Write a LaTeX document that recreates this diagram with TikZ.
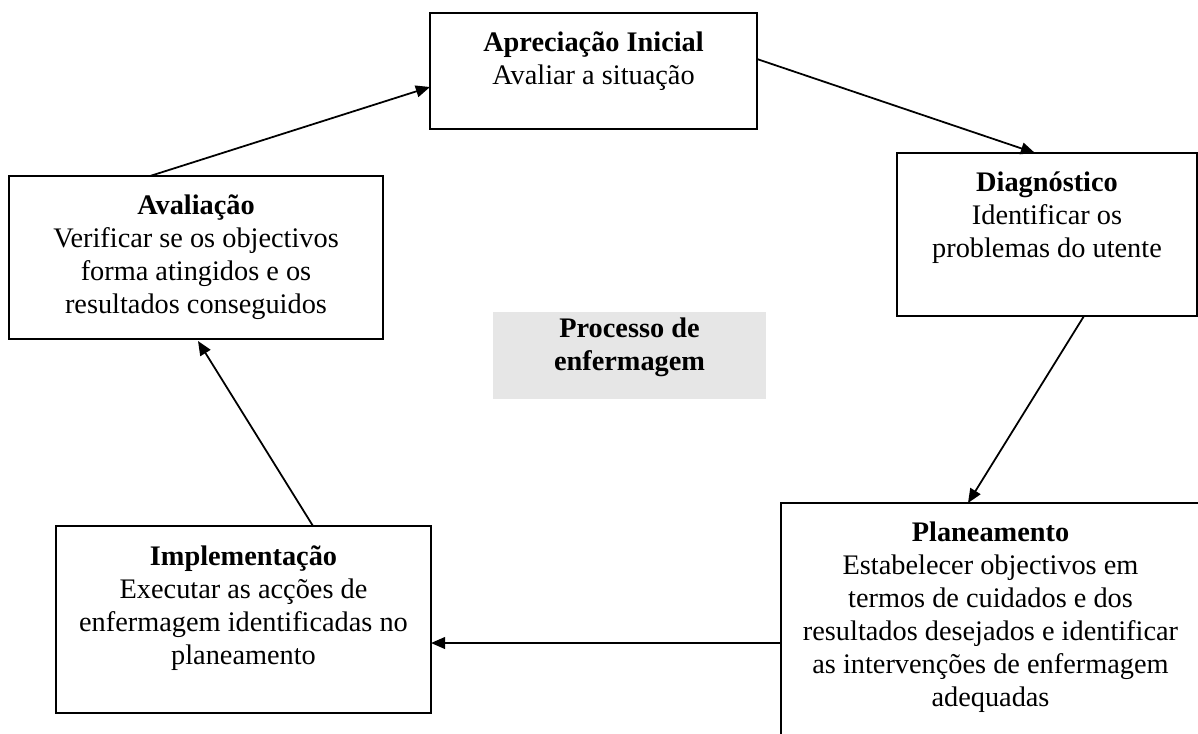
\documentclass[tikz,border=0pt]{standalone}
\usepackage{fontspec}
\setmainfont{Liberation Serif}
\usetikzlibrary{arrows.meta,calc}
\definecolor{procgray}{RGB}{230,230,230}
\begin{document}
\begin{tikzpicture}[x=0.4237pt,y=-0.4237pt,
  box/.style={draw,line width=0.75pt,rectangle,inner sep=0pt,outer sep=0pt},
  txt/.style={align=center,inner sep=0pt,anchor=north,font=\fontsize{12}{14}\selectfont},
  arr/.style={line width=0.75pt,-{Triangle[length=6pt,width=5pt]}}]
\clip (0,0) rectangle (1198,733);
% boxes
\node[box,minimum width=138.55pt,minimum height=49.15pt] (apr) at (593.5,71) {};
\node[box,minimum width=127.11pt,minimum height=69.06pt] (dia) at (1047,234.5) {};
\node[box,minimum width=158.46pt,minimum height=69.06pt] (ava) at (196,257.5) {};
\node[box,minimum width=158.89pt,minimum height=79.23pt] (imp) at (243.5,619.5) {};
\node[box,minimum width=177.53pt,minimum height=102.54pt] (pla) at (990.5,624) {};
\node[fill=procgray,inner sep=0pt,outer sep=0pt,minimum width=115.67pt,minimum height=36.86pt] (proc) at (629.5,355.5) {};
% texts
\node[txt] (aprt) at ($(apr.north)+(0,15)$) {\strut\textbf{Apreciação Inicial}\\Avaliar a situação};
\node[txt] (diat) at ($(dia.north)+(0,15)$) {\strut\textbf{Diagnóstico}\\Identificar os\\problemas do utente};
\node[txt] (avat) at ($(ava.north)+(0,15)$) {\strut\textbf{Avaliação}\\Verificar se os objectivos\\forma atingidos e os\\resultados conseguidos};
\node[txt] (impt) at ($(imp.north)+(0,16)$) {\strut\textbf{Implementação}\\Executar as acções de\\enfermagem identificadas no\\planeamento};
\node[txt] (plat) at ($(pla.north)+(0,15)$) {\strut\textbf{Planeamento}\\Estabelecer objectivos em\\termos de cuidados e dos\\resultados desejados e identificar\\as intervenções de enfermagem\\adequadas};
\node[txt] (proct) at ($(proc.north)+(0,2)$) {\strut\textbf{Processo de}\\\textbf{enfermagem}};
% connectors
\draw[arr] ($(apr.east)+(0,-12)$) -- ($(dia.north)+(-12,0)$);
\draw[arr] ($(dia.south)+(37,0)$) -- ($(pla.north west)+(187,0)$);
\draw[arr] ($(pla.north west)+(0,140)$) -- ($(imp.east)+(0,23.5)$);
\draw[arr] ($(imp.north)+(69.5,0)$) -- ($(ava.south)+(2,2)$);
\draw[arr] ($(ava.north)+(-46,0)$) -- ($(apr.west)+(0,16)$);
\end{tikzpicture}
\end{document}
